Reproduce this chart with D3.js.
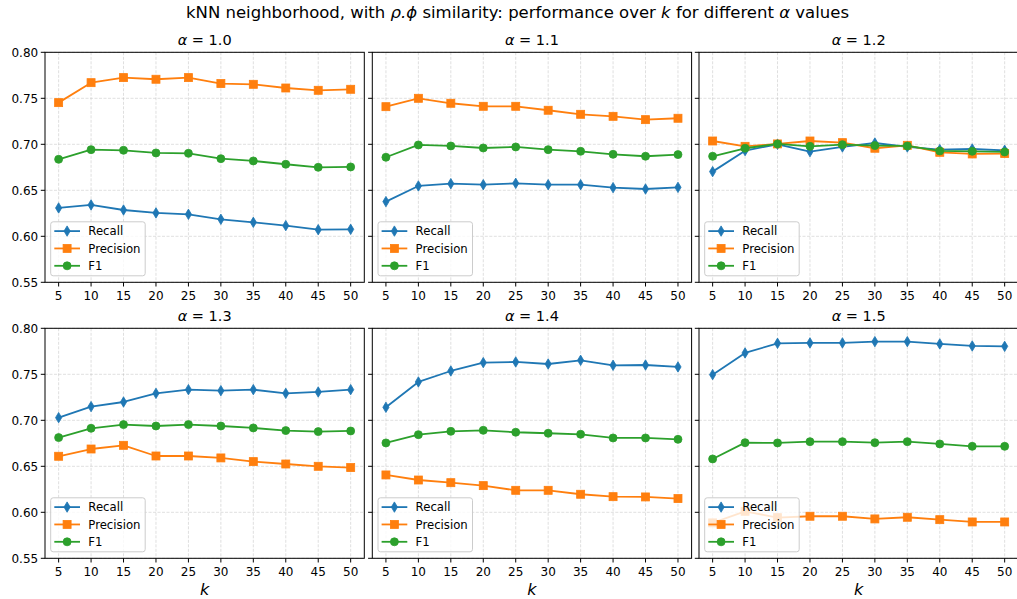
<!DOCTYPE html>
<html>
<head>
<meta charset="utf-8">
<script src="https://cdn.jsdelivr.net/npm/d3@7"></script>
<style>
  html, body { margin: 0; padding: 0; background: #fff; }
  svg text { font-family: "DejaVu Sans", sans-serif; fill: #000; }
</style>
</head>
<body>
<svg id="chart" width="1017" height="599"></svg>
<script>
// ---------- data ----------
const kValues = [5, 10, 15, 20, 25, 30, 35, 40, 45, 50];
const alphaLabels = ["1.0", "1.1", "1.2", "1.3", "1.4", "1.5"];
const yTicks = [0.55, 0.60, 0.65, 0.70, 0.75, 0.80];
const seriesNames = ["Recall", "Precision", "F1"];
const seriesColors = ["#1f77b4", "#ff7f0e", "#2ca02c"];

const recall = [
  [0.6308, 0.6341, 0.6286, 0.6254, 0.6239, 0.6185, 0.6152, 0.6116, 0.6072, 0.6076],
  [0.6377, 0.6547, 0.6572, 0.6561, 0.6576, 0.6561, 0.6561, 0.6529, 0.6514, 0.6532],
  [0.6703, 0.6931, 0.7000, 0.6920, 0.6971, 0.7014, 0.6971, 0.6942, 0.6949, 0.6935],
  [0.7029, 0.7149, 0.7199, 0.7293, 0.7333, 0.7322, 0.7333, 0.7293, 0.7308, 0.7333],
  [0.7141, 0.7417, 0.7536, 0.7627, 0.7634, 0.7612, 0.7652, 0.7598, 0.7601, 0.7580],
  [0.7496, 0.7732, 0.7837, 0.7841, 0.7841, 0.7855, 0.7855, 0.7830, 0.7808, 0.7804]
];
const precision = [
  [0.7453, 0.7670, 0.7725, 0.7707, 0.7725, 0.7660, 0.7652, 0.7612, 0.7587, 0.7598],
  [0.7409, 0.7500, 0.7446, 0.7413, 0.7413, 0.7370, 0.7326, 0.7304, 0.7268, 0.7283],
  [0.7036, 0.6978, 0.7004, 0.7036, 0.7018, 0.6957, 0.6989, 0.6913, 0.6895, 0.6899],
  [0.6609, 0.6688, 0.6728, 0.6612, 0.6612, 0.6591, 0.6551, 0.6525, 0.6500, 0.6486],
  [0.6406, 0.6351, 0.6322, 0.6290, 0.6239, 0.6239, 0.6196, 0.6170, 0.6167, 0.6149],
  [0.5885, 0.6011, 0.5942, 0.5957, 0.5957, 0.5928, 0.5946, 0.5920, 0.5895, 0.5895]
];
const f1 = [
  [0.6837, 0.6942, 0.6935, 0.6906, 0.6902, 0.6844, 0.6819, 0.6783, 0.6750, 0.6754],
  [0.6859, 0.6993, 0.6982, 0.6960, 0.6971, 0.6942, 0.6924, 0.6891, 0.6870, 0.6888],
  [0.6870, 0.6957, 0.7004, 0.6978, 0.6996, 0.6986, 0.6982, 0.6928, 0.6924, 0.6917],
  [0.6812, 0.6913, 0.6953, 0.6938, 0.6953, 0.6938, 0.6917, 0.6888, 0.6877, 0.6884],
  [0.6754, 0.6844, 0.6880, 0.6891, 0.6870, 0.6859, 0.6848, 0.6808, 0.6808, 0.6793],
  [0.6580, 0.6757, 0.6754, 0.6768, 0.6768, 0.6757, 0.6768, 0.6743, 0.6717, 0.6717]
];
const seriesData = [recall, precision, f1];

// ---------- layout ----------
const svg = d3.select("#chart");
const colLefts = [45, 372.3, 699];
const rowTops = [52.3, 328.3];
const PW = 319.3, PH = 230;
const tickLen = 4.2;

const x = d3.scaleLinear().domain([2.9, 52.1]).range([0, PW]);
const y = d3.scaleLinear().domain([0.55, 0.80]).range([PH, 0]);

const diamondPath = "M0,-5.2L3.1,0L0,5.2L-3.1,0Z";
function drawMarker(g, type, cx, cy, color) {
  if (type === 0) {
    g.append("path").attr("d", diamondPath).attr("transform", `translate(${cx},${cy})`)
      .attr("fill", color).attr("stroke", color).attr("stroke-width", 0.8);
  } else if (type === 1) {
    g.append("rect").attr("x", cx - 4).attr("y", cy - 4).attr("width", 8).attr("height", 8)
      .attr("fill", color).attr("stroke", color).attr("stroke-width", 0.8);
  } else {
    g.append("circle").attr("cx", cx).attr("cy", cy).attr("r", 4)
      .attr("fill", color).attr("stroke", color).attr("stroke-width", 0.8);
  }
}

// suptitle
const sup = svg.append("text").attr("x", 517.5).attr("y", 18).attr("text-anchor", "middle")
  .attr("font-size", 16.5);
sup.append("tspan").text("kNN neighborhood, with ");
sup.append("tspan").attr("font-style", "italic").text("ρ.ϕ");
sup.append("tspan").text(" similarity: performance over ");
sup.append("tspan").attr("font-style", "italic").text("k");
sup.append("tspan").text(" for different ");
sup.append("tspan").attr("font-style", "italic").text("α");
sup.append("tspan").text(" values");

alphaLabels.forEach((lab, i) => {
  const row = Math.floor(i / 3), col = i % 3;
  const g = svg.append("g").attr("transform", `translate(${colLefts[col]},${rowTops[row]})`);

  // grid
  g.append("g").selectAll("line").data(kValues).join("line")
    .attr("x1", d => x(d)).attr("x2", d => x(d)).attr("y1", 0).attr("y2", PH)
    .attr("stroke", "#b0b0b0").attr("stroke-opacity", 0.5).attr("stroke-width", 0.8)
    .attr("stroke-dasharray", "3,1.5");
  g.append("g").selectAll("line").data(yTicks).join("line")
    .attr("x1", 0).attr("x2", PW).attr("y1", d => y(d)).attr("y2", d => y(d))
    .attr("stroke", "#b0b0b0").attr("stroke-opacity", 0.5).attr("stroke-width", 0.8)
    .attr("stroke-dasharray", "3,1.5");

  // series
  seriesData.forEach((s, si) => {
    const vals = s[i];
    const line = d3.line().x((d, j) => x(kValues[j])).y(d => y(d));
    g.append("path").datum(vals).attr("d", line).attr("fill", "none")
      .attr("stroke", seriesColors[si]).attr("stroke-width", 1.8).attr("stroke-linejoin", "round");
    const mg = g.append("g");
    vals.forEach((v, j) => drawMarker(mg, si, x(kValues[j]), y(v), seriesColors[si]));
  });

  // frame
  g.append("rect").attr("x", 0).attr("y", 0).attr("width", PW).attr("height", PH)
    .attr("fill", "none").attr("stroke", "#000").attr("stroke-width", 1);

  // x axis ticks
  const xa = g.append("g");
  kValues.forEach(k => {
    xa.append("line").attr("x1", x(k)).attr("x2", x(k)).attr("y1", PH).attr("y2", PH + tickLen)
      .attr("stroke", "#000").attr("stroke-width", 1);
    xa.append("text").attr("x", x(k)).attr("y", PH + 17.7).attr("text-anchor", "middle")
      .attr("font-size", 12).text(k);
  });
  // y axis ticks
  const ya = g.append("g");
  yTicks.forEach(t => {
    ya.append("line").attr("x1", -tickLen).attr("x2", 0).attr("y1", y(t)).attr("y2", y(t))
      .attr("stroke", "#000").attr("stroke-width", 1);
    if (col === 0) {
      ya.append("text").attr("x", -tickLen - 2.6).attr("y", y(t)).attr("dy", "0.36em")
        .attr("text-anchor", "end").attr("font-size", 12).text(d3.format(".2f")(t));
    }
  });

  // title
  const tt = g.append("text").attr("x", PW / 2).attr("y", -7).attr("text-anchor", "middle")
    .attr("font-size", 14.5);
  tt.append("tspan").attr("font-style", "italic").text("α");
  tt.append("tspan").text(" = " + lab);

  // x label on bottom row
  if (row === 1) {
    g.append("text").attr("x", PW / 2).attr("y", PH + 36.5).attr("text-anchor", "middle")
      .attr("font-size", 16).attr("font-style", "italic").text("k");
  }

  // legend
  const lx = 5.7, lw = 94.5, lh = 54, ly = PH - 6.5 - lh;
  const lg = g.append("g").attr("transform", `translate(${lx},${ly})`);
  lg.append("rect").attr("x", 0).attr("y", 0).attr("width", lw).attr("height", lh)
    .attr("rx", 2.5).attr("fill", "#fff").attr("fill-opacity", 0.8)
    .attr("stroke", "#cccccc").attr("stroke-width", 1);
  seriesNames.forEach((nm, si) => {
    const ry = 9.3 + si * 17.35;
    lg.append("line").attr("x1", 3.6).attr("x2", 29.3).attr("y1", ry).attr("y2", ry)
      .attr("stroke", seriesColors[si]).attr("stroke-width", 1.8);
    drawMarker(lg, si, 16.4, ry, seriesColors[si]);
    lg.append("text").attr("x", 37.6).attr("y", ry).attr("dy", "0.36em")
      .attr("font-size", 11.7).text(nm);
  });
});
</script>
</body>
</html>
